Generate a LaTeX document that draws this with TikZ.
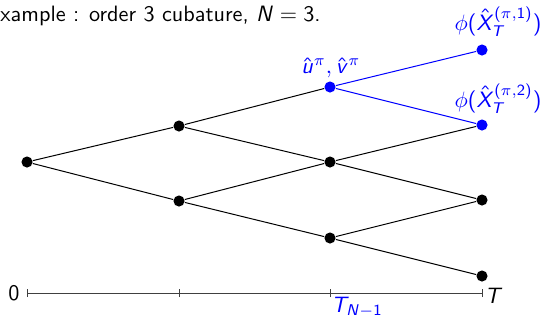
\documentclass[tikz,border=0pt]{standalone}
\DeclareMathAlphabet{\mathsl}{OT1}{cmss}{m}{sl}
\SetSymbolFont{operators}{normal}{OT1}{cmss}{m}{n}
\begin{document}
\begin{tikzpicture}[x=0.45pt,y=-0.45pt,
  dot/.style={circle,fill=black,inner sep=0pt,minimum size=5pt},
  bdot/.style={circle,fill=blue,inner sep=0pt,minimum size=5pt},
  edge/.style={black,line width=0.45pt},
  bedge/.style={blue,line width=0.45pt},
  lbl/.style={font=\sffamily,inner sep=0pt},
  axis/.style={black!75,line width=0.45pt}]
\useasboundingbox (0,0) rectangle (545,323);
\clip (0,0) rectangle (545,323);
\node[lbl,anchor=base west] (title) at (0,21) {xample : order 3 cubature, $\mathsl{N} = 3$.};
% nodes
\node[dot] (a) at (27,162) {};
\node[dot] (b1) at (179,126) {};
\node[dot] (b2) at (179,201) {};
\node[bdot] (c1) at (330,87) {};
\node[dot] (c2) at (330,162) {};
\node[dot] (c3) at (330,238) {};
\node[bdot] (d1) at (482,50) {};
\node[bdot] (d2) at (482,125) {};
\node[dot] (d3) at (482,200) {};
\node[dot] (d4) at (482,276) {};
% edges
\draw[edge] (a) -- (b1); \draw[edge] (a) -- (b2);
\draw[edge] (b1) -- (c1); \draw[edge] (b1) -- (c2);
\draw[edge] (b2) -- (c2); \draw[edge] (b2) -- (c3);
\draw[bedge] (c1) -- (d1); \draw[bedge] (c1) -- (d2);
\draw[edge] (c2) -- (d2); \draw[edge] (c2) -- (d3);
\draw[edge] (c3) -- (d3); \draw[edge] (c3) -- (d4);
% labels
\node[lbl,text=blue] (lu) at (331,68) {$\hat{\mathsl{u}}^\pi, \hat{\mathsl{v}}^\pi$};
\node[lbl,text=blue] (l1) at (498,22) {$\phi(\hat{\mathsl{X}}_{\mathsl{T}}^{(\pi,1)})$};
\node[lbl,text=blue] (l2) at (498,99) {$\phi(\hat{\mathsl{X}}_{\mathsl{T}}^{(\pi,2)})$};
% axis
\coordinate (t0) at (27,293);
\coordinate (t1) at (179,293);
\coordinate (t2) at (330,293);
\coordinate (t3) at (482,293);
\draw[axis] (t0) -- (t3);
\foreach \p in {t0,t1,t2,t3} \draw[axis] ([yshift=-1.9pt]\p) -- ([yshift=1.9pt]\p);
\node[lbl] (l0) at (14,293) {$0$};
\node[lbl] (lT) at (494,296) {$\mathsl{T}$};
\node[lbl,text=blue] (lTN) at (357,307) {$\mathsl{T}_{\mathsl{N}-1}$};
\end{tikzpicture}
\end{document}
